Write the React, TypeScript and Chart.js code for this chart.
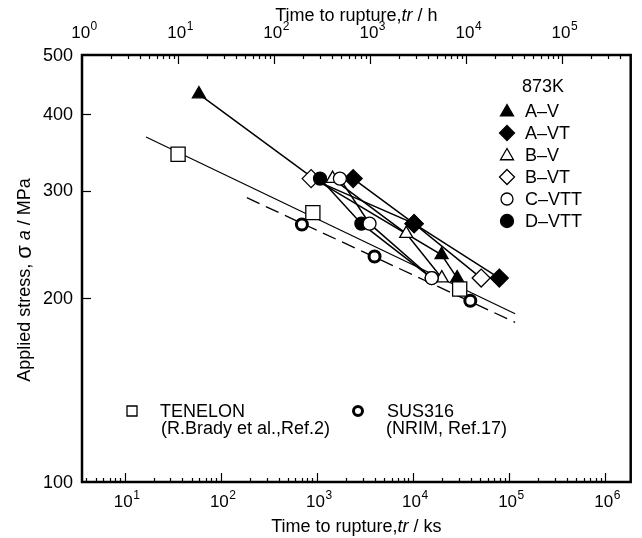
import React, { useEffect, useRef } from "react";
import { Chart, registerables } from "chart.js";

Chart.register(...registerables);

// ---------------- data (time to rupture in ks, stress in MPa) ----------------
const tenelonTime = [36, 910, 30700];
const tenelonStress = [344, 276, 207];
const tenelonFitTime = [16.7, 116000];
const tenelonFitStress = [367, 188.5];

const susTime = [700, 3990, 39600];
const susStress = [264, 234, 198];
const susFitTime = [187, 116000];
const susFitStress = [292, 182.5];

const avTime = [59.3, 930, 19900, 28900];
const avStress = [431.5, 313.8, 235.4, 215.7];
const avtTime = [2390, 10300, 79400];
const avtStress = [313.8, 264.8, 215.7];
const bvTime = [1460, 8530, 20000];
const bvStress = [313.8, 255, 215.7];
const bvtTime = [873, 10300, 51400];
const bvtStress = [313.8, 264.8, 215.7];
const cvttTime = [1740, 3540, 15700];
const cvttStress = [313.8, 264.8, 215.7];
const dvttTime = [1080, 2910, 15700];
const dvttStress = [313.8, 264.8, 215.7];

const bottomExponents = [1, 2, 3, 4, 5, 6]; // ks
const topExponents = [0, 1, 2, 3, 4, 5]; // h
const stressTicks = [100, 200, 300, 400, 500];
const seriesNames = ["A–V", "A–VT", "B–V", "B–VT", "C–VTT", "D–VTT"];
const legendTitle = "873K";

const X_MIN = 3.6;
const X_MAX = 1.85e6;
const Y_MIN = 100;
const Y_MAX = 500;
const KS_PER_H = 3.6;

const FONT = '"Liberation Sans", Arial, Helvetica, sans-serif';

const pts = (xs: number[], ys: number[]) => xs.map((x, i) => ({ x, y: ys[i] }));

function lineDs(xs: number[], ys: number[], order: number, width = 1.5, dash: number[] = []) {
  return {
    data: pts(xs, ys),
    showLine: true,
    borderColor: "#000",
    borderWidth: width,
    borderDash: dash,
    pointRadius: 0,
    fill: false,
    order,
  };
}

function pointDs(
  xs: number[],
  ys: number[],
  order: number,
  style: string,
  radius: number | number[],
  fill: string,
  bw = 1.3
) {
  return {
    data: pts(xs, ys),
    showLine: false,
    pointStyle: style,
    pointRadius: radius,
    pointBackgroundColor: fill,
    pointBorderColor: "#000",
    pointBorderWidth: bw,
    order,
  };
}

function drawMarker(
  ctx: CanvasRenderingContext2D,
  style: string,
  x: number,
  y: number,
  r: number,
  fill: string,
  lw: number
) {
  ctx.beginPath();
  if (style === "triangle") {
    ctx.moveTo(x, y - r);
    ctx.lineTo(x + r * 0.866, y + r * 0.5);
    ctx.lineTo(x - r * 0.866, y + r * 0.5);
    ctx.closePath();
  } else if (style === "rectRot") {
    ctx.moveTo(x, y - r);
    ctx.lineTo(x + r, y);
    ctx.lineTo(x, y + r);
    ctx.lineTo(x - r, y);
    ctx.closePath();
  } else if (style === "rect") {
    ctx.rect(x - r, y - r, 2 * r, 2 * r);
  } else {
    ctx.arc(x, y, r, 0, Math.PI * 2);
  }
  ctx.fillStyle = fill;
  ctx.fill();
  ctx.lineWidth = lw;
  ctx.strokeStyle = "#000";
  ctx.stroke();
}

type Piece = { t: string; f: string };

function drawPieces(ctx: CanvasRenderingContext2D, pieces: Piece[], cx: number, cy: number) {
  let total = 0;
  const ws = pieces.map((p) => {
    ctx.font = p.f;
    const w = ctx.measureText(p.t).width;
    total += w;
    return w;
  });
  let x = cx - total / 2;
  ctx.textAlign = "left";
  ctx.textBaseline = "middle";
  pieces.forEach((p, i) => {
    ctx.font = p.f;
    ctx.fillText(p.t, x, cy);
    x += ws[i];
  });
}

function drawPow(ctx: CanvasRenderingContext2D, exp: number, cx: number, cy: number) {
  const mainF = `17px ${FONT}`;
  const supF = `12px ${FONT}`;
  ctx.font = mainF;
  const w1 = ctx.measureText("10").width;
  ctx.font = supF;
  const w2 = ctx.measureText(String(exp)).width;
  const x0 = cx - (w1 + w2) / 2 + 2;
  ctx.textAlign = "left";
  ctx.textBaseline = "alphabetic";
  ctx.font = mainF;
  ctx.fillText("10", x0, cy + 6);
  ctx.font = supF;
  ctx.fillText(String(exp), x0 + w1 + 0.5, cy - 2);
}

const decorPlugin = {
  id: "decor",
  afterDatasetsDraw(chart: any) {
    const ctx: CanvasRenderingContext2D = chart.ctx;
    const xs = chart.scales.x;
    const ys = chart.scales.y;
    const { left, right, top, bottom } = chart.chartArea;
    ctx.save();
    ctx.fillStyle = "#000";
    ctx.strokeStyle = "#000";

    // frame
    ctx.lineWidth = 2.5;
    ctx.strokeRect(left, top, right - left, bottom - top);

    // bottom ticks (ks)
    ctx.lineWidth = 1.2;
    for (let d = 0; d <= 6; d++) {
      for (let m = 1; m <= 9; m++) {
        const v = m * Math.pow(10, d);
        if (v <= X_MIN || v >= X_MAX) continue;
        const px = Math.round(xs.getPixelForValue(v)) + 0.5;
        const len = m === 1 ? 9 : 4;
        ctx.beginPath();
        ctx.moveTo(px, bottom);
        ctx.lineTo(px, bottom - len);
        ctx.stroke();
      }
    }
    // top ticks (h)
    for (let d = 0; d <= 5; d++) {
      for (let m = 1; m <= 9; m++) {
        const v = m * Math.pow(10, d) * KS_PER_H;
        if (v <= X_MIN * 1.001 || v >= X_MAX) continue;
        const px = Math.round(xs.getPixelForValue(v)) + 0.5;
        const len = m === 1 ? 9 : 4;
        ctx.beginPath();
        ctx.moveTo(px, top);
        ctx.lineTo(px, top + len);
        ctx.stroke();
      }
    }
    // y ticks
    stressTicks.forEach((s) => {
      if (s <= Y_MIN || s >= Y_MAX) return;
      const py = Math.round(ys.getPixelForValue(s)) + 0.5;
      ctx.beginPath();
      ctx.moveTo(left, py);
      ctx.lineTo(left + 9, py);
      ctx.stroke();
    });

    // y tick labels
    ctx.font = `18px ${FONT}`;
    ctx.textAlign = "right";
    ctx.textBaseline = "middle";
    stressTicks.forEach((s) => {
      ctx.fillText(String(s), left - 9, ys.getPixelForValue(s) + 1);
    });

    // bottom tick labels
    bottomExponents.forEach((e) => {
      drawPow(ctx, e, xs.getPixelForValue(Math.pow(10, e)), bottom + 19);
    });
    // top tick labels
    topExponents.forEach((e) => {
      drawPow(ctx, e, xs.getPixelForValue(Math.pow(10, e) * KS_PER_H), top - 23);
    });

    const cx = (left + right) / 2;
    const reg = `18px ${FONT}`;
    const ital = `italic 18px ${FONT}`;
    drawPieces(
      ctx,
      [
        { t: "Time to rupture,", f: reg },
        { t: "tr", f: ital },
        { t: " / h", f: reg },
      ],
      cx,
      16
    );
    drawPieces(
      ctx,
      [
        { t: "Time to rupture,", f: reg },
        { t: "tr", f: ital },
        { t: " / ks", f: reg },
      ],
      cx,
      bottom + 45
    );

    // y title
    ctx.save();
    ctx.translate(25, 280);
    ctx.rotate(-Math.PI / 2);
    drawPieces(
      ctx,
      [
        { t: "Applied stress, ", f: reg },
        { t: "σ", f: `22px ${FONT}` },
        { t: " ", f: reg },
        { t: "a", f: ital },
        { t: " / MPa", f: reg },
      ],
      0,
      0
    );
    ctx.restore();

    // top-right legend
    ctx.font = reg;
    ctx.textAlign = "center";
    ctx.textBaseline = "middle";
    ctx.fillText(legendTitle, 543, 87);
    const legendStyles: [string, number, string][] = [
      ["triangle", 7.5, "#000"],
      ["rectRot", 7.5, "#000"],
      ["triangle", 7.5, "#fff"],
      ["rectRot", 7.5, "#fff"],
      ["circle", 6, "#fff"],
      ["circle", 6.5, "#000"],
    ];
    seriesNames.forEach((name, i) => {
      const y = 111 + i * 22;
      const [st, r, fc] = legendStyles[i];
      drawMarker(ctx, st, 507, st === "triangle" ? y + 1 : y, r, fc, 1.3);
      ctx.fillStyle = "#000";
      ctx.font = reg;
      ctx.textAlign = "left";
      ctx.textBaseline = "middle";
      ctx.fillText(name, 525, y + 1);
    });

    // bottom legend
    drawMarker(ctx, "rect", 132, 411, 5, "#fff", 1.3);
    drawMarker(ctx, "circle", 358, 411, 4.5, "#fff", 3);
    ctx.fillStyle = "#000";
    ctx.font = reg;
    ctx.textAlign = "left";
    ctx.textBaseline = "middle";
    ctx.fillText("TENELON", 160, 412);
    ctx.fillText("(R.Brady et al.,Ref.2)", 161, 429);
    ctx.fillText("SUS316", 387, 412);
    ctx.fillText("(NRIM, Ref.17)", 386, 429);

    ctx.restore();
  },
};

export default function App() {
  const ref = useRef<HTMLCanvasElement>(null);
  useEffect(() => {
    const canvas = ref.current;
    if (!canvas) return;
    const chart = new Chart(canvas, {
      type: "line",
      data: {
        datasets: [
          // markers (lower order = drawn on top)
          pointDs(cvttTime, cvttStress, 0, "circle", 6.5, "#fff"),
          pointDs(dvttTime, dvttStress, 1, "circle", 6.5, "#000"),
          pointDs(avtTime, avtStress, 2, "rectRot", 9, "#000"),
          pointDs(bvTime, bvStress, 3, "triangle", 7.5, "#fff"),
          pointDs(tenelonTime, tenelonStress, 4, "rect", 10, "#fff"),
          pointDs(bvtTime, bvtStress, 5, "rectRot", 9, "#fff"),
          pointDs(avTime, avStress, 6, "triangle", [7.5, 0, 7.5, 7.5], "#000"),
          pointDs(susTime, susStress, 7, "circle", 5.5, "#fff", 3),
          // lines
          lineDs(avTime, avStress, 20),
          lineDs(avtTime, avtStress, 21),
          lineDs(bvTime, bvStress, 22),
          lineDs(bvtTime, bvtStress, 23),
          lineDs(cvttTime, cvttStress, 24),
          lineDs(dvttTime, dvttStress, 25),
          lineDs(tenelonFitTime, tenelonFitStress, 26, 1.2),
          lineDs(susFitTime, susFitStress, 27, 1.3, [14, 7]),
        ] as any,
      },
      options: {
        responsive: false,
        animation: false,
        events: [],
        layout: { padding: { left: 82, right: 6, top: 55, bottom: 56 } },
        plugins: {
          legend: { display: false },
          tooltip: { enabled: false },
          title: { display: false },
        },
        scales: {
          x: { type: "logarithmic", min: X_MIN, max: X_MAX, display: false },
          y: { type: "logarithmic", min: Y_MIN, max: Y_MAX, display: false },
        },
      } as any,
      plugins: [decorPlugin],
    });
    return () => chart.destroy();
  }, []);
  return (
    <div
      style={{
        position: "fixed",
        left: 0,
        top: 0,
        width: 642,
        height: 538,
        background: "#fff",
      }}
    >
      <canvas ref={ref} width={642} height={538} style={{ display: "block", width: 642, height: 538 }} />
    </div>
  );
}
